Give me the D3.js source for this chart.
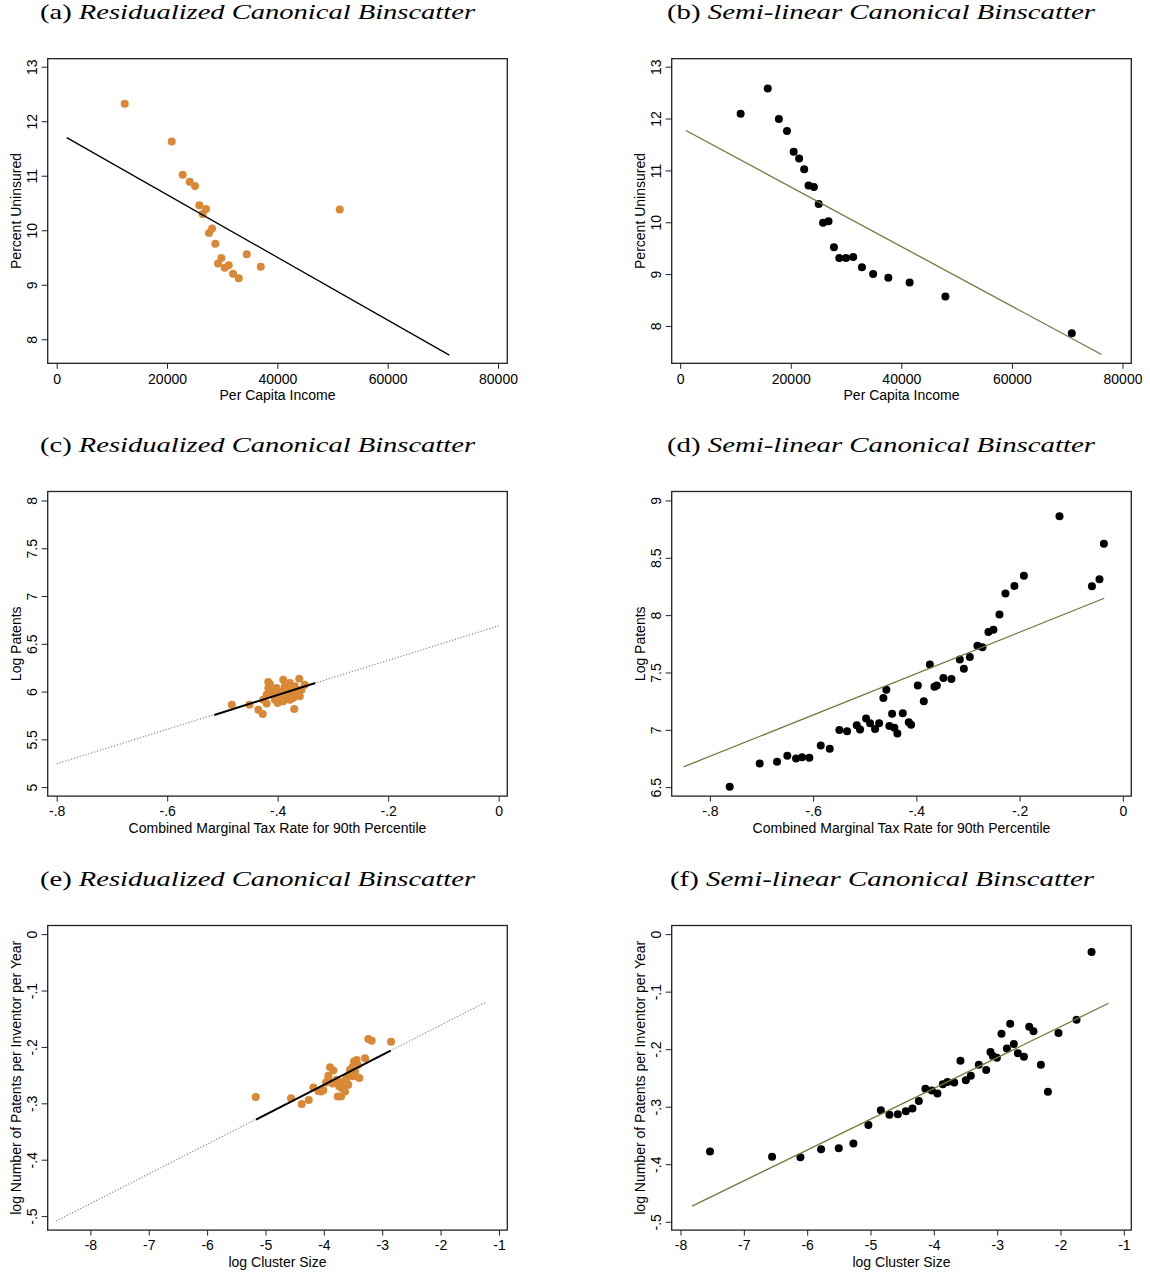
<!DOCTYPE html>
<html>
<head>
<meta charset="utf-8">
<script src="https://cdn.jsdelivr.net/npm/d3@7"></script>
<style>
  body { margin: 0; background: #fff; }
</style>
</head>
<body>
<svg id="fig" width="1150" height="1276"></svg>
<script>
// ---- data ----

// (a) residualized: per capita income vs percent uninsured
const incomeResid = [
  [12330, 12.32], [20850, 11.63], [22840, 11.02], [24110, 10.89], [25070, 10.81],
  [25860, 10.46], [27070, 10.39], [26470, 10.30], [28160, 10.03], [27610, 9.95],
  [28760, 9.75], [29850, 9.49], [29250, 9.39], [31180, 9.36], [30460, 9.31],
  [31970, 9.20], [33000, 9.12], [34450, 9.56], [36990, 9.33], [51310, 10.38]
];
const incomeResidFit = [[1813, 11.70], [71180, 7.71]];

// (b) semi-linear
const incomeSemi = [
  [10940, 12.09], [15840, 12.58], [17850, 11.99], [19320, 11.76], [20530, 11.36],
  [21520, 11.23], [22430, 11.02], [23220, 10.71], [24190, 10.68], [25060, 10.35],
  [25850, 9.99], [26830, 10.02], [27810, 9.52], [28780, 9.31], [30000, 9.31],
  [31290, 9.33], [32880, 9.13], [34900, 9.00], [37650, 8.93], [41500, 8.84],
  [47970, 8.57], [70830, 7.86]
];
const incomeSemiFit = [[1040, 11.77], [76210, 7.45]];

const incomeTicks = [0, 20000, 40000, 60000, 80000];
const incomeTickLabels = ["0", "20000", "40000", "60000", "80000"];
const uninsuredTicks = [8, 9, 10, 11, 12, 13];
const uninsuredTickLabels = ["8", "9", "10", "11", "12", "13"];

// (c) residualized: tax rate vs log patents
const taxResid = [
  [-0.483, 5.863], [-0.451, 5.863], [-0.435, 5.811], [-0.427, 5.766], [-0.370, 5.818],
  [-0.420, 5.968], [-0.414, 6.080], [-0.411, 6.002], [-0.417, 6.037], [-0.405, 5.915],
  [-0.402, 6.037], [-0.396, 5.933], [-0.390, 6.124], [-0.387, 6.055], [-0.384, 5.950],
  [-0.378, 6.090], [-0.375, 5.985], [-0.378, 5.915], [-0.366, 6.002], [-0.361, 6.135],
  [-0.357, 6.020], [-0.351, 6.072], [-0.393, 6.002], [-0.408, 5.968], [-0.399, 5.985],
  [-0.369, 6.055], [-0.381, 6.020], [-0.372, 5.933], [-0.426, 5.915], [-0.417, 6.100],
  [-0.360, 5.950], [-0.390, 5.898], [-0.400, 5.880], [-0.420, 5.874], [-0.364, 5.968]
];
const taxResidFit = [[-0.5146, 5.755], [-0.3318, 6.089]];
const taxResidExt = [[-0.8, 5.244], [0, 6.688]];

// (d) semi-linear
const taxSemi = [
  [-0.7616, 6.503], [-0.7035, 6.706], [-0.6699, 6.721], [-0.6500, 6.773], [-0.6331, 6.750],
  [-0.6215, 6.761], [-0.6073, 6.756], [-0.5852, 6.863], [-0.5678, 6.834], [-0.5492, 6.999],
  [-0.5343, 6.987], [-0.5155, 7.039], [-0.5091, 7.002], [-0.4974, 7.098], [-0.4897, 7.057],
  [-0.4800, 7.008], [-0.4722, 7.057], [-0.4639, 7.278], [-0.4581, 7.350], [-0.4523, 7.034],
  [-0.4470, 7.139], [-0.4426, 7.017], [-0.4368, 6.967], [-0.4263, 7.144], [-0.4147, 7.066],
  [-0.4102, 7.045], [-0.3972, 7.387], [-0.3856, 7.248], [-0.3739, 7.570], [-0.3650, 7.376],
  [-0.3604, 7.387], [-0.3476, 7.452], [-0.3321, 7.443], [-0.3158, 7.613], [-0.3080, 7.533],
  [-0.2964, 7.634], [-0.2817, 7.733], [-0.2720, 7.721], [-0.2604, 7.852], [-0.2507, 7.872],
  [-0.2390, 8.005], [-0.2274, 8.188], [-0.2100, 8.255], [-0.1917, 8.344], [-0.1227, 8.863],
  [-0.0599, 8.252], [-0.0452, 8.313], [-0.0367, 8.623]
];
const taxSemiFit = [[-0.851, 6.677], [-0.036, 8.147]];

const taxTicks = [-0.8, -0.6, -0.4, -0.2, 0];
const taxTickLabels = ["-.8", "-.6", "-.4", "-.2", "0"];
const patentResidTicks = [5, 5.5, 6, 6.5, 7, 7.5, 8];
const patentResidTickLabels = ["5", "5.5", "6", "6.5", "7", "7.5", "8"];
const patentSemiTicks = [6.5, 7, 7.5, 8, 8.5, 9];
const patentSemiTickLabels = ["6.5", "7", "7.5", "8", "8.5", "9"];

// (e) residualized: log cluster size vs log patents per inventor
const clusterResid = [
  [-5.167, -0.289], [-4.562, -0.291], [-4.379, -0.301], [-4.259, -0.294], [-4.180, -0.272],
  [-4.094, -0.278], [-4.009, -0.277], [-4.050, -0.279], [-3.963, -0.263], [-3.923, -0.251],
  [-3.894, -0.236], [-3.838, -0.242], [-3.779, -0.258], [-3.735, -0.270], [-3.762, -0.288],
  [-3.706, -0.288], [-3.694, -0.273], [-3.654, -0.261], [-3.608, -0.255], [-3.581, -0.267],
  [-3.552, -0.246], [-3.505, -0.235], [-3.483, -0.226], [-3.437, -0.223], [-3.392, -0.255],
  [-3.294, -0.220], [-3.238, -0.186], [-3.180, -0.189], [-2.849, -0.191], [-3.466, -0.244],
  [-3.495, -0.252], [-3.637, -0.279], [-3.920, -0.255], [-3.850, -0.265], [-3.550, -0.240],
  [-3.420, -0.232]
];
const clusterResidFit = [[-5.162, -0.329], [-2.856, -0.2064]];
const clusterResidExt = [[-8.588, -0.5088], [-1.240, -0.1215]];

// (f) semi-linear
const clusterSemi = [
  [-7.534, -0.378], [-6.554, -0.387], [-6.107, -0.388], [-5.780, -0.374], [-5.501, -0.372],
  [-5.270, -0.364], [-5.033, -0.332], [-4.837, -0.306], [-4.701, -0.314], [-4.569, -0.313],
  [-4.442, -0.308], [-4.338, -0.303], [-4.237, -0.290], [-4.133, -0.269], [-4.032, -0.272],
  [-3.943, -0.277], [-3.858, -0.261], [-3.785, -0.257], [-3.679, -0.258], [-3.580, -0.220],
  [-3.495, -0.254], [-3.416, -0.246], [-3.290, -0.227], [-3.174, -0.236], [-3.106, -0.205],
  [-3.068, -0.212], [-3.005, -0.215], [-2.932, -0.173], [-2.847, -0.199], [-2.795, -0.156],
  [-2.737, -0.191], [-2.673, -0.207], [-2.578, -0.213], [-2.494, -0.161], [-2.427, -0.169],
  [-2.310, -0.227], [-2.199, -0.274], [-2.032, -0.172], [-1.747, -0.149], [-1.510, -0.031]
];
const clusterSemiFit = [[-7.818, -0.4728], [-1.240, -0.1202]];

const clusterTicks = [-8, -7, -6, -5, -4, -3, -2, -1];
const clusterTickLabels = ["-8", "-7", "-6", "-5", "-4", "-3", "-2", "-1"];
const perInventorTicks = [-0.5, -0.4, -0.3, -0.2, -0.1, 0];
const perInventorTickLabels = ["-.5", "-.4", "-.3", "-.2", "-.1", "0"];

// ---- drawing ----
const svg = d3.select("#fig");
const boxW = 459.6, boxH = 304.6;
const orange = "#d98835";
const green = "#647f3e";
const axisFont = "'Liberation Sans', Arial, Helvetica, sans-serif";
const titleFont = "'Liberation Serif', 'Times New Roman', serif";

function drawPanel(p) {
  const x = d3.scaleLinear().domain(p.xDomain).range([p.left, p.left + boxW]);
  const y = d3.scaleLinear().domain(p.yDomain).range([p.top + boxH, p.top]);
  const g = svg.append("g");

  // title: "(a) " upright + italic caption
  const title = g.append("text")
    .attr("x", p.titleX)
    .attr("y", p.top - 40)
    .attr("textLength", p.titleLen)
    .attr("lengthAdjust", "spacingAndGlyphs")
    .style("font-family", titleFont)
    .style("font-size", "22px")
    .attr("fill", "#000");
  title.append("tspan").text(p.tag + " ");
  title.append("tspan").style("font-style", "italic").text(p.caption);

  // x axis
  const xAxis = d3.axisBottom(x)
    .tickValues(p.xTicks)
    .tickFormat((d, i) => p.xLabels[i])
    .tickSize(5.5)
    .tickPadding(4.8);
  const gx = g.append("g")
    .attr("transform", "translate(0," + (p.top + boxH) + ")")
    .call(xAxis);
  gx.select(".domain").remove();
  gx.selectAll("line").attr("stroke", "#222").attr("stroke-width", 1);
  gx.selectAll("text")
    .attr("fill", "#000")
    .style("font-family", axisFont)
    .style("font-size", "14px");

  // y axis, labels turned vertical
  const yAxis = d3.axisLeft(y)
    .tickValues(p.yTicks)
    .tickFormat((d, i) => p.yLabels[i])
    .tickSize(6);
  const gy = g.append("g")
    .attr("transform", "translate(" + p.left + ",0)")
    .call(yAxis);
  gy.select(".domain").remove();
  gy.selectAll("line").attr("stroke", "#222").attr("stroke-width", 1);
  gy.selectAll("text")
    .attr("x", null)
    .attr("dy", null)
    .attr("text-anchor", "middle")
    .attr("transform", "translate(-11,0) rotate(-90)")
    .attr("fill", "#000")
    .style("font-family", axisFont)
    .style("font-size", "14px");

  // axis titles
  g.append("text")
    .attr("x", p.left + boxW / 2)
    .attr("y", p.top + boxH + 36.5)
    .attr("text-anchor", "middle")
    .style("font-family", axisFont)
    .style("font-size", "14px")
    .text(p.xTitle);

  g.append("text")
    .attr("transform", "translate(" + (p.left - 27) + "," + (p.top + boxH / 2) + ") rotate(-90)")
    .attr("text-anchor", "middle")
    .style("font-family", axisFont)
    .style("font-size", "14px")
    .text(p.yTitle);

  const line = d3.line().x(d => x(d[0])).y(d => y(d[1]));

  // dotted extension of the fit
  if (p.ext) {
    g.append("path")
      .attr("d", line(p.ext))
      .attr("fill", "none")
      .attr("stroke", "#8a8a8a")
      .attr("stroke-width", 1.2)
      .attr("stroke-dasharray", "1.2,1.8");
  }

  // points
  g.selectAll("circle")
    .data(p.points)
    .enter()
    .append("circle")
    .attr("cx", d => x(d[0]))
    .attr("cy", d => y(d[1]))
    .attr("r", 4)
    .attr("fill", p.dotColor);

  // fit line
  g.append("path")
    .attr("d", line(p.fit))
    .attr("fill", "none")
    .attr("stroke", p.fitColor)
    .attr("stroke-width", p.fitWidth);

  // plot region border
  g.append("rect")
    .attr("x", p.left)
    .attr("y", p.top)
    .attr("width", boxW)
    .attr("height", boxH)
    .attr("fill", "none")
    .attr("stroke", "#222")
    .attr("stroke-width", 1.3);
}

const leftX = 47.7, rightX = 671.7;
const rowY = [58.7, 491.5, 925.5];
const resCap = "Residualized Canonical Binscatter";
const semiCap = "Semi-linear Canonical Binscatter";

drawPanel({
  tag: "(a)", caption: resCap, titleX: 40, titleLen: 435,
  left: leftX, top: rowY[0],
  xDomain: [-1632, 81687], yDomain: [7.559, 13.147],
  xTicks: incomeTicks, xLabels: incomeTickLabels,
  yTicks: uninsuredTicks, yLabels: uninsuredTickLabels,
  xTitle: "Per Capita Income", yTitle: "Percent Uninsured",
  points: incomeResid, dotColor: orange,
  fit: incomeResidFit, fitColor: "#000", fitWidth: 1.3
});

drawPanel({
  tag: "(b)", caption: semiCap, titleX: 667, titleLen: 428,
  left: rightX, top: rowY[0],
  xDomain: [-1528, 81589], yDomain: [7.280, 13.154],
  xTicks: incomeTicks, xLabels: incomeTickLabels,
  yTicks: uninsuredTicks, yLabels: uninsuredTickLabels,
  xTitle: "Per Capita Income", yTitle: "Percent Uninsured",
  points: incomeSemi, dotColor: "#000",
  fit: incomeSemiFit, fitColor: green, fitWidth: 1.3
});

drawPanel({
  tag: "(c)", caption: resCap, titleX: 40, titleLen: 435,
  left: leftX, top: rowY[1],
  xDomain: [-0.8163, 0.0157], yDomain: [4.906, 8.094],
  xTicks: taxTicks, xLabels: taxTickLabels,
  yTicks: patentResidTicks, yLabels: patentResidTickLabels,
  xTitle: "Combined Marginal Tax Rate for 90th Percentile", yTitle: "Log Patents",
  points: taxResid, dotColor: orange,
  fit: taxResidFit, fitColor: "#000", fitWidth: 2, ext: taxResidExt
});

drawPanel({
  tag: "(d)", caption: semiCap, titleX: 667, titleLen: 428,
  left: rightX, top: rowY[1],
  xDomain: [-0.874, 0.0164], yDomain: [6.422, 9.078],
  xTicks: taxTicks, xLabels: taxTickLabels,
  yTicks: patentSemiTicks, yLabels: patentSemiTickLabels,
  xTitle: "Combined Marginal Tax Rate for 90th Percentile", yTitle: "Log Patents",
  points: taxSemi, dotColor: "#000",
  fit: taxSemiFit, fitColor: green, fitWidth: 1.3
});

drawPanel({
  tag: "(e)", caption: resCap, titleX: 40, titleLen: 435,
  left: leftX, top: rowY[2],
  xDomain: [-8.731, -0.857], yDomain: [-0.5248, 0.0153],
  xTicks: clusterTicks, xLabels: clusterTickLabels,
  yTicks: perInventorTicks, yLabels: perInventorTickLabels,
  xTitle: "log Cluster Size", yTitle: "log Number of Patents per Inventor per Year",
  points: clusterResid, dotColor: orange,
  fit: clusterResidFit, fitColor: "#000", fitWidth: 2, ext: clusterResidExt
});

drawPanel({
  tag: "(f)", caption: semiCap, titleX: 670, titleLen: 424,
  left: rightX, top: rowY[2],
  xDomain: [-8.139, -0.8825], yDomain: [-0.5145, 0.015],
  xTicks: clusterTicks, xLabels: clusterTickLabels,
  yTicks: perInventorTicks, yLabels: perInventorTickLabels,
  xTitle: "log Cluster Size", yTitle: "log Number of Patents per Inventor per Year",
  points: clusterSemi, dotColor: "#000",
  fit: clusterSemiFit, fitColor: green, fitWidth: 1.3
});
</script>
</body>
</html>
